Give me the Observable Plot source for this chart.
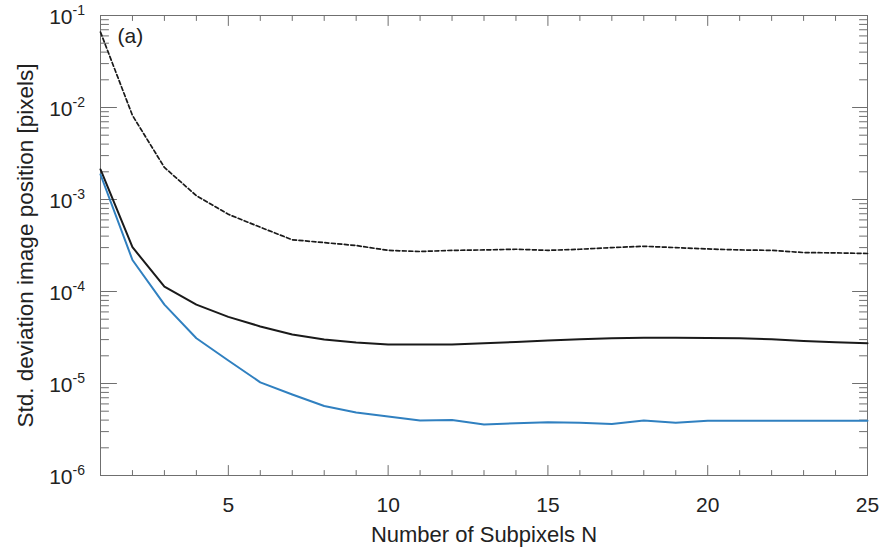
<!DOCTYPE html>
<html>
<head>
<meta charset="utf-8">
<script src="https://cdn.jsdelivr.net/npm/d3@7"></script>
<script src="https://cdn.jsdelivr.net/npm/@observablehq/plot@0.6"></script>
<style>
  html, body { margin: 0; padding: 0; background: #fff; }
  #chart { width: 882px; height: 548px; }
</style>
</head>
<body>
<div id="chart"></div>
<script>
// ---- data ----
const subpixels = [1,2,3,4,5,6,7,8,9,10,11,12,13,14,15,16,17,18,19,20,21,22,23,24,25];
const stdDashed = [0.066,0.0082,0.00223,0.0011,0.00069,0.0005,0.000365,0.00034,0.000316,0.00028,
  0.000272,0.00028,0.000283,0.000288,0.00028,0.000288,0.0003,0.00031,0.0003,0.00029,
  0.000283,0.00028,0.000265,0.000263,0.000259];
const stdBlack = [0.00212,0.000303,0.000113,7.2e-5,5.3e-5,4.17e-5,3.41e-5,3.0e-5,2.79e-5,2.65e-5,
  2.65e-5,2.65e-5,2.74e-5,2.82e-5,2.93e-5,3.03e-5,3.11e-5,3.15e-5,3.15e-5,3.13e-5,
  3.1e-5,3.03e-5,2.9e-5,2.8e-5,2.74e-5];
const stdBlue = [0.00187,0.00022,7.2e-5,3.1e-5,1.78e-5,1.03e-5,7.6e-6,5.7e-6,4.84e-6,4.37e-6,
  3.96e-6,4.0e-6,3.58e-6,3.7e-6,3.78e-6,3.75e-6,3.62e-6,3.96e-6,3.75e-6,3.93e-6,
  3.93e-6,3.93e-6,3.93e-6,3.93e-6,3.93e-6];
const xTickLabels = [5,10,15,20,25];
const yDecades = [1e-1,1e-2,1e-3,1e-4,1e-5,1e-6];
const yExponents = ["-1","-2","-3","-4","-5","-6"];
const xLabel = "Number of Subpixels N";
const yLabel = "Std. deviation image position [pixels]";
const panelLabel = "(a)";

// ---- derived tables ----
const rows = (vals) => subpixels.map((n, i) => ({n, v: vals[i]}));
const xMinor = subpixels.filter(n => !xTickLabels.includes(n));
const yMinor = [];
for (const d of yDecades.slice(1)) for (let k = 2; k <= 9; k++) yMinor.push(d * k);
const decadeRows = yDecades.map((d, i) => ({d, e: yExponents[i]}));

const axisColor = "#6f6f6f";
const textColor = "#222";
const tickShape = {draw(ctx, l) { ctx.moveTo(0, 0); ctx.lineTo(0, -l); }};
const ticks = (data, opts) => Plot.vector(data, {anchor: "start", shape: tickShape, stroke: axisColor, strokeWidth: 1, ...opts});

const chart = Plot.plot({
  width: 882,
  height: 548,
  marginLeft: 100,
  marginRight: 15,
  marginTop: 15,
  marginBottom: 73,
  style: {fontFamily: "'Liberation Sans', Arial, sans-serif", fontSize: "21px", color: textColor, background: "#fff"},
  x: {domain: [1, 25], axis: null},
  y: {type: "log", domain: [1e-6, 1e-1], axis: null},
  marks: [
    Plot.frame({stroke: axisColor, strokeWidth: 1}),
    // bottom / top x ticks
    ticks(xTickLabels, {x: d => d, frameAnchor: "bottom", length: 10, rotate: 0}),
    ticks(xMinor, {x: d => d, frameAnchor: "bottom", length: 5, rotate: 0}),
    ticks(xTickLabels, {x: d => d, frameAnchor: "top", length: 10, rotate: 180}),
    ticks(xMinor, {x: d => d, frameAnchor: "top", length: 5, rotate: 180}),
    // left / right y ticks
    ticks(yDecades, {y: d => d, frameAnchor: "left", length: 16, rotate: 90}),
    ticks(yMinor, {y: d => d, frameAnchor: "left", length: 8, rotate: 90}),
    ticks(yDecades, {y: d => d, frameAnchor: "right", length: 15, rotate: -90}),
    ticks(yMinor, {y: d => d, frameAnchor: "right", length: 8, rotate: -90}),
    // lines
    Plot.line(rows(stdDashed), {x: "n", y: "v", stroke: "#1a1a1a", strokeWidth: 1.7, strokeDasharray: "4,2.5"}),
    Plot.line(rows(stdBlack), {x: "n", y: "v", stroke: "#1a1a1a", strokeWidth: 2}),
    Plot.line(rows(stdBlue), {x: "n", y: "v", stroke: "#3080c0", strokeWidth: 2}),
    // x tick labels
    Plot.text(xTickLabels, {x: d => d, frameAnchor: "bottom", lineAnchor: "middle", textAnchor: "middle", text: d => String(d), dy: 30, fontSize: 21, fill: textColor}),
    // y tick labels 10^k
    Plot.text(decadeRows, {y: "d", frameAnchor: "left", lineAnchor: "middle", text: () => "10", textAnchor: "end", dx: -28, dy: 2, fontSize: 21, fill: textColor}),
    Plot.text(decadeRows, {y: "d", frameAnchor: "left", lineAnchor: "middle", text: "e", textAnchor: "start", dx: -28, dy: -5, fontSize: 14, fill: textColor}),
    // axis labels
    Plot.text([xLabel], {frameAnchor: "bottom", lineAnchor: "middle", textAnchor: "middle", text: d => d, dy: 59, fontSize: 22, fill: textColor}),
    Plot.text([yLabel], {frameAnchor: "left", lineAnchor: "middle", textAnchor: "middle", text: d => d, dx: -75, rotate: -90, fontSize: 22.5, fill: textColor}),
    Plot.text([panelLabel], {frameAnchor: "top-left", lineAnchor: "middle", textAnchor: "start", text: d => d, dx: 17, dy: 21, fontSize: 21, fill: textColor})
  ]
});
document.getElementById("chart").appendChild(chart);
</script>
</body>
</html>
